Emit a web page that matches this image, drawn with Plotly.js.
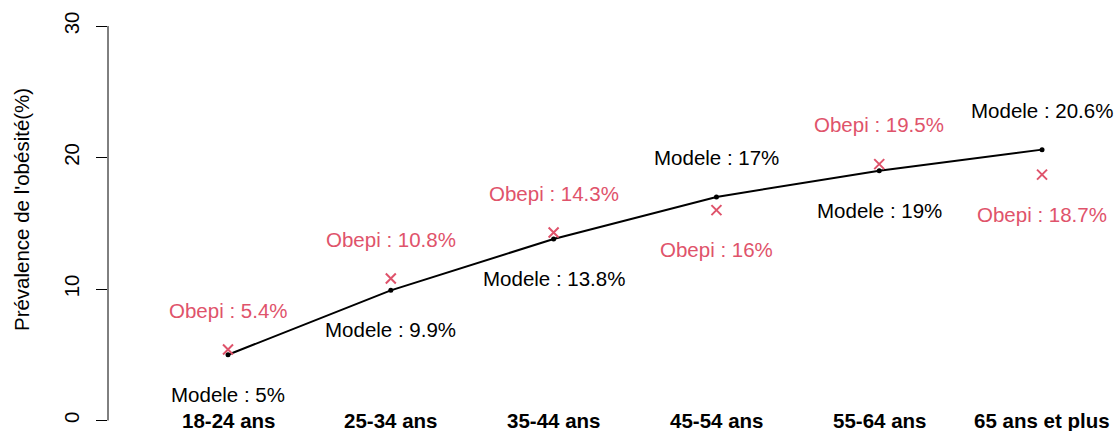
<!DOCTYPE html>
<html><head><meta charset="utf-8">
<script src="https://cdn.plot.ly/plotly-3.0.1.min.js"></script>
<style>html,body{margin:0;padding:0;background:#fff}#plot{width:1117px;height:431px}</style>
</head><body><div id="plot"></div>
<script>
const categories = ["18-24 ans","25-34 ans","35-44 ans","45-54 ans","55-64 ans","65 ans et plus"];
const modele = [5, 9.9, 13.8, 17, 19, 20.6];
const obepi = [5.4, 10.8, 14.3, 16, 19.5, 18.7];
const yTicks = [0, 10, 20, 30];
const yTitle = "Prévalence de l'obésité(%)";

const xIdx = categories.map((c, i) => i + 1);
const RED = "#DF536B";
const FONT = "Liberation Sans, Arial, sans-serif";
const OFF = 3;

const annotations = [];
categories.forEach((c, i) => {
  const x = i + 1;
  const mAbove = modele[i] >= obepi[i];
  annotations.push({x: x, y: modele[i] + (mAbove ? OFF : -OFF), xref: 'x', yref: 'y',
    text: 'Modele : ' + modele[i] + '%', showarrow: false,
    font: {family: FONT, size: 20.5, color: '#000'}, xanchor: 'center', yanchor: 'middle'});
  annotations.push({x: x, y: obepi[i] + (mAbove ? -OFF : OFF), xref: 'x', yref: 'y',
    text: 'Obepi : ' + obepi[i] + '%', showarrow: false,
    font: {family: FONT, size: 20.5, color: RED}, xanchor: 'center', yanchor: 'middle'});
  annotations.push({x: x, y: 0, xref: 'x', yref: 'y',
    text: '<b>' + c + '</b>', showarrow: false,
    font: {family: FONT, size: 20.5, color: '#000'}, xanchor: 'center', yanchor: 'middle'});
});
annotations.push({x: -0.0871, y: 16.08, xref: 'paper', yref: 'y', text: yTitle,
  textangle: -90, showarrow: false, font: {family: FONT, size: 20.5, color: '#000'},
  xanchor: 'center', yanchor: 'middle'});

const traces = [
  {x: xIdx, y: modele, type: 'scatter', mode: 'lines+markers',
   line: {color: '#000', width: 2}, marker: {color: '#000', size: 5, symbol: 'circle'},
   cliponaxis: false, hoverinfo: 'none'},
  {x: xIdx, y: obepi, type: 'scatter', mode: 'markers',
   marker: {symbol: 'x-thin', size: 10, line: {color: RED, width: 2}, color: RED},
   cliponaxis: false, hoverinfo: 'none'}
];

const layout = {
  width: 1117, height: 431,
  margin: {l: 108, r: 10, t: 10, b: 0, pad: 0},
  paper_bgcolor: '#fff', plot_bgcolor: '#fff',
  showlegend: false,
  xaxis: {range: [0.2629, 6.399], showgrid: false, zeroline: false, showline: false,
    showticklabels: false, ticks: ''},
  yaxis: {range: [-0.8, 31.22], showgrid: false, zeroline: false, showline: false,
    tickmode: 'array', tickvals: yTicks, ticktext: yTicks.map(String),
    ticks: 'outside', ticklen: 11, tickwidth: 1, tickcolor: '#000',
    ticklabelstandoff: 9,
    tickangle: -90, tickfont: {family: FONT, size: 20.5, color: '#000'}},
  shapes: [{type: 'line', xref: 'paper', yref: 'y', x0: 0, x1: 0,
    y0: yTicks[0], y1: yTicks[yTicks.length - 1], line: {color: '#000', width: 1}}],
  annotations: annotations
};
Plotly.newPlot('plot', traces, layout, {staticPlot: true});
</script></body></html>
